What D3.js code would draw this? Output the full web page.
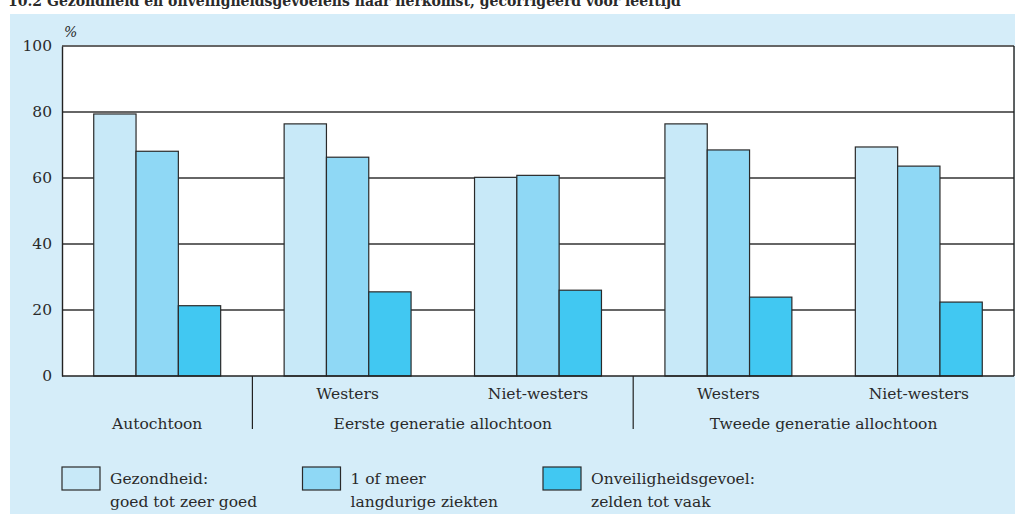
<!DOCTYPE html>
<html>
<head>
<meta charset="utf-8">
<script src="https://cdn.jsdelivr.net/npm/d3@7"></script>
<style>
  body { margin: 0; background: #fff; }
  svg { display: block; }
  text { font-family: "DejaVu Serif", "Liberation Serif", serif; fill: #2a2a2a; }
</style>
</head>
<body>
<svg width="1015" height="514"></svg>
<script>
// data
const title = '10.2  Gezondheid en onveiligheidsgevoelens naar herkomst, gecorrigeerd voor leeftijd';
const categories = ['', 'Westers', 'Niet-westers', 'Westers', 'Niet-westers'];
const groups = ['Autochtoon', 'Eerste generatie allochtoon', 'Tweede generatie allochtoon'];
const groupOf = [0, 1, 1, 2, 2];
const seriesNames = [['Gezondheid:', 'goed tot zeer goed'], ['1 of meer', 'langdurige ziekten'], ['Onveiligheidsgevoel:', 'zelden tot vaak']];
const gezondheid = [79.4, 76.4, 60.2, 76.4, 69.4];
const ziekten = [68.1, 66.3, 60.8, 68.5, 63.6];
const onveilig = [21.3, 25.5, 26.0, 23.9, 22.4];
const yTicks = [0, 20, 40, 60, 80, 100];
const colors = ['#c8e9f8', '#8fd8f5', '#41c8f2'];

const svg = d3.select('svg');
const margin = { left: 62, right: 1, top: 46, bottom: 138 };
const width = 1015 - margin.left - margin.right;
const height = 514 - margin.top - margin.bottom;
const fs = '15.5px';

// title, cut off at the top edge as in the source
svg.append('text')
  .attr('x', 8).attr('y', 6)
  .style('font-size', '14px').style('font-weight', 'bold')
  .text(title);

// blue panel
svg.append('rect')
  .attr('x', 10).attr('y', 14)
  .attr('width', 1005).attr('height', 500)
  .attr('fill', '#d5edf9');

const g = svg.append('g').attr('transform', `translate(${margin.left},${margin.top})`);

const x0 = d3.scaleBand().domain(d3.range(categories.length)).range([0, width]);
const x1 = d3.scaleBand().domain([0, 1, 2]).range([x0.bandwidth() / 6, x0.bandwidth() * 5 / 6]);
const y = d3.scaleLinear().domain([0, 100]).range([height, 0]);

g.append('rect').attr('width', width).attr('height', height).attr('fill', '#fff');

// gridlines
g.selectAll('line.grid')
  .data(yTicks.filter(d => d > 0))
  .enter().append('line')
  .attr('class', 'grid')
  .attr('x1', 0).attr('x2', width)
  .attr('y1', d => y(d)).attr('y2', d => y(d))
  .attr('stroke', d => d === 100 ? '#666' : '#333')
  .attr('stroke-width', d => d === 100 ? 2 : 1.4);

// right border
g.append('line')
  .attr('x1', width).attr('x2', width)
  .attr('y1', 0).attr('y2', height)
  .attr('stroke', '#222').attr('stroke-width', 1.4);

// bars
const series = [gezondheid, ziekten, onveilig];
const barData = [];
categories.forEach((c, i) => {
  series.forEach((s, j) => barData.push({ cat: i, ser: j, value: s[i] }));
});

g.selectAll('rect.bar')
  .data(barData)
  .enter().append('rect')
  .attr('class', 'bar')
  .attr('x', d => x0(d.cat) + x1(d.ser))
  .attr('y', d => y(d.value))
  .attr('width', x1.bandwidth())
  .attr('height', d => height - y(d.value))
  .attr('fill', d => colors[d.ser])
  .attr('stroke', '#2a2a2a')
  .attr('stroke-width', 1.2);

// y axis
const yAxis = g.append('g').call(d3.axisLeft(y).tickValues(yTicks).tickSize(0).tickPadding(10));
yAxis.select('.domain').attr('stroke', '#222').attr('stroke-width', 1.4);
yAxis.selectAll('text').style('font-size', fs).style('font-family', '"DejaVu Serif", serif').attr('fill', '#2a2a2a');

g.append('text')
  .attr('x', 2).attr('y', -9)
  .style('font-size', '14px').style('font-style', 'italic')
  .text('%');

// x axis line
g.append('line')
  .attr('x1', 0).attr('x2', width)
  .attr('y1', height).attr('y2', height)
  .attr('stroke', '#222').attr('stroke-width', 1.4);

// sub labels
g.selectAll('text.cat')
  .data(categories)
  .enter().append('text')
  .attr('class', 'cat')
  .attr('x', (d, i) => x0(i) + x0.bandwidth() / 2)
  .attr('y', height + 23)
  .attr('text-anchor', 'middle')
  .style('font-size', fs)
  .text(d => d);

// group labels and separators
groups.forEach((name, k) => {
  const idx = d3.range(categories.length).filter(i => groupOf[i] === k);
  const left = x0(idx[0]);
  const right = x0(idx[idx.length - 1]) + x0.bandwidth();
  g.append('text')
    .attr('x', (left + right) / 2)
    .attr('y', height + 53)
    .attr('text-anchor', 'middle')
    .style('font-size', fs)
    .text(name);
  if (k > 0) {
    g.append('line')
      .attr('x1', left).attr('x2', left)
      .attr('y1', height).attr('y2', height + 53)
      .attr('stroke', '#222').attr('stroke-width', 1.2);
  }
});

// legend
const legend = svg.append('g').attr('transform', 'translate(62,467)');
seriesNames.forEach((lines, i) => {
  const item = legend.append('g').attr('transform', `translate(${i * 240.5},0)`);
  item.append('rect')
    .attr('width', 38).attr('height', 23)
    .attr('fill', colors[i])
    .attr('stroke', '#2a2a2a').attr('stroke-width', 1.2);
  lines.forEach((t, r) => {
    item.append('text')
      .attr('x', 48).attr('y', 17 + r * 23)
      .style('font-size', fs)
      .text(t);
  });
});
</script>
</body>
</html>
